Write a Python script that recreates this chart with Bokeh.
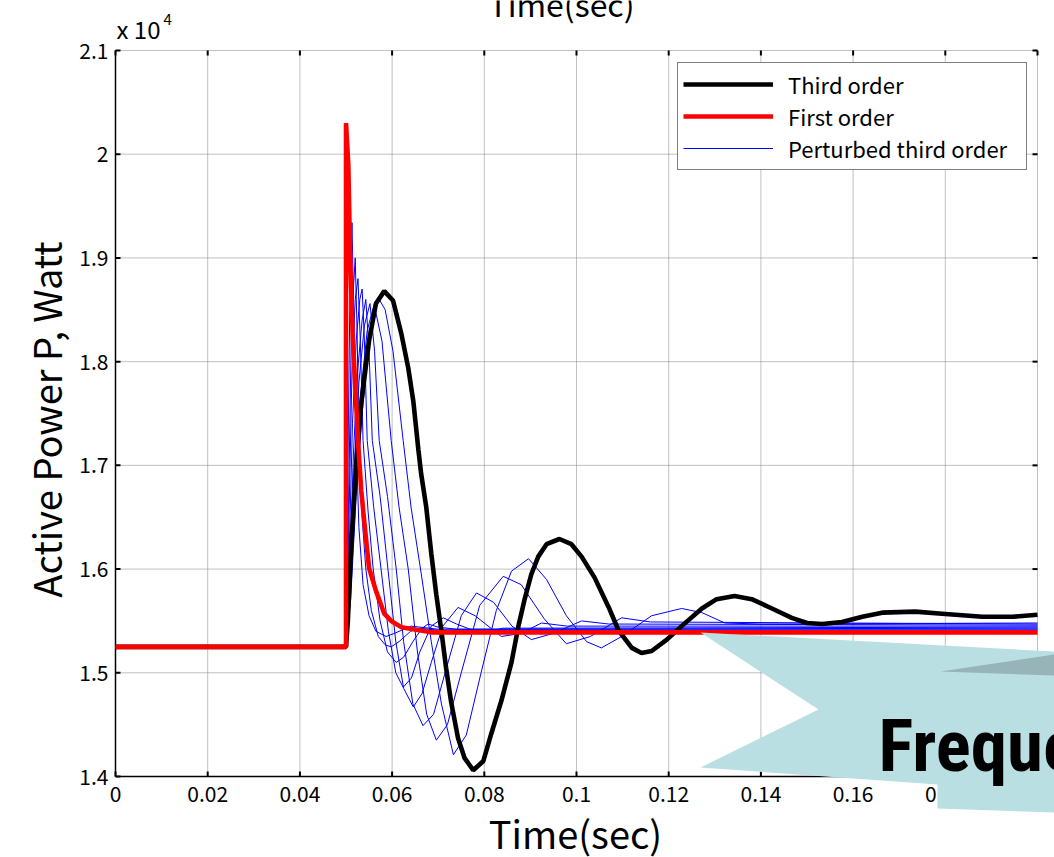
import math
from bokeh.plotting import figure
from bokeh.models import Range1d, Legend, LegendItem, PolyAnnotation
from bokeh.embed import file_html
from bokeh.resources import INLINE

# ---------------- data (active power in units of 1e4 W) ----------------
x_ticks = [0, 0.02, 0.04, 0.06, 0.08, 0.1, 0.12, 0.14, 0.16, 0.18, 0.2]
x_tick_labels = ["0", "0.02", "0.04", "0.06", "0.08", "0.1", "0.12", "0.14", "0.16", "0.18", "0.2"]
y_ticks = [1.4, 1.5, 1.6, 1.7, 1.8, 1.9, 2.0, 2.1]
y_tick_labels = ["1.4", "1.5", "1.6", "1.7", "1.8", "1.9", "2", "2.1"]

third_t = [0, 0.0500, 0.0504, 0.0511, 0.0522, 0.0533, 0.0550, 0.0565, 0.0583, 0.0602,
           0.0620, 0.0635, 0.0646, 0.0657, 0.0663, 0.0674, 0.0685, 0.0696, 0.0707, 0.0717,
           0.0728, 0.0743, 0.0757, 0.0776, 0.0798, 0.0815, 0.0837, 0.0859, 0.0874, 0.0887,
           0.0902, 0.0917, 0.0935, 0.0963, 0.0989, 0.1011, 0.1039, 0.1070, 0.1091, 0.1120,
           0.1141, 0.1163, 0.1196, 0.1228, 0.1272, 0.1304, 0.1343, 0.1380, 0.1424, 0.1467,
           0.1500, 0.1533, 0.1576, 0.1620, 0.1663, 0.1735, 0.1793, 0.1880, 0.1946, 0.2]
third_p = [1.525, 1.525, 1.55, 1.62, 1.70, 1.76, 1.82, 1.856, 1.868, 1.859,
           1.827, 1.794, 1.762, 1.715, 1.692, 1.66, 1.615, 1.575, 1.54, 1.505,
           1.472, 1.437, 1.418, 1.406, 1.415, 1.441, 1.473, 1.51, 1.545, 1.57,
           1.595, 1.612, 1.624, 1.629, 1.624, 1.612, 1.592, 1.563, 1.541, 1.524,
           1.519, 1.521, 1.532, 1.545, 1.562, 1.571, 1.574, 1.571, 1.562, 1.553,
           1.548, 1.547, 1.549, 1.554, 1.558, 1.559, 1.557, 1.554, 1.554, 1.556]

first_t = [0, 0.0500, 0.0500, 0.0505, 0.0509, 0.0515, 0.0522, 0.0526, 0.0533, 0.0540,
           0.0550, 0.0565, 0.0583, 0.0598, 0.0620, 0.0685, 0.2]
first_p = [1.525, 1.525, 2.03, 1.99, 1.90, 1.82, 1.76, 1.724, 1.676, 1.644,
           1.601, 1.579, 1.557, 1.550, 1.544, 1.539, 1.539]

pert1_t = [0, 0.0500, 0.0504, 0.0509, 0.0513, 0.0518, 0.0522, 0.0528, 0.0537, 0.0550,
           0.0565, 0.0587, 0.0605, 0.0641, 0.0700, 0.2]
pert1_p = [1.525, 1.525, 1.70, 1.88, 1.934, 1.82, 1.724, 1.64, 1.585, 1.555,
           1.54, 1.535, 1.538, 1.545, 1.542, 1.542]

pert2_t = [0, 0.0500, 0.0505, 0.0512, 0.0520, 0.0524, 0.0528, 0.0535, 0.0543, 0.0555,
           0.0570, 0.0585, 0.0598, 0.0615, 0.0640, 0.0660, 0.0700, 0.2]
pert2_p = [1.525, 1.525, 1.65, 1.84, 1.90, 1.83, 1.724, 1.65, 1.60, 1.56,
           1.535, 1.527, 1.525, 1.53, 1.54, 1.543, 1.541, 1.541]

pert3_t = [0, 0.0500, 0.0505, 0.0513, 0.0520, 0.0526, 0.0531, 0.0537, 0.0548, 0.0559,
           0.0574, 0.0590, 0.0609, 0.0625, 0.0645, 0.0665, 0.0678, 0.0700, 0.0740, 0.2]
pert3_p = [1.525, 1.525, 1.62, 1.79, 1.86, 1.88, 1.82, 1.724, 1.655, 1.60,
           1.55, 1.52, 1.51, 1.515, 1.53, 1.543, 1.547, 1.544, 1.542, 1.543]

pert4_t = [0, 0.0500, 0.0506, 0.0514, 0.0522, 0.0530, 0.0535, 0.0540, 0.0546, 0.0560,
           0.0576, 0.0592, 0.0608, 0.0624, 0.0642, 0.0660, 0.0685, 0.0711, 0.0740, 0.0793,
           0.0840, 0.2]
pert4_p = [1.525, 1.525, 1.60, 1.74, 1.82, 1.86, 1.87, 1.82, 1.724, 1.66,
           1.60, 1.54, 1.50, 1.486, 1.495, 1.52, 1.545, 1.553, 1.547, 1.538,
           1.543, 1.544]

pert5_t = [0, 0.0500, 0.0507, 0.0516, 0.0525, 0.0535, 0.0543, 0.0550, 0.0557, 0.0574,
           0.0591, 0.0608, 0.0625, 0.0646, 0.0665, 0.0685, 0.0710, 0.0743, 0.0780, 0.0837,
           0.0880, 0.0924, 0.0980, 0.2]
pert5_p = [1.525, 1.525, 1.58, 1.71, 1.79, 1.84, 1.86, 1.81, 1.724, 1.67,
           1.60, 1.53, 1.485, 1.467, 1.48, 1.51, 1.545, 1.563, 1.555, 1.535,
           1.538, 1.548, 1.545, 1.545]

pert6_t = [0, 0.0500, 0.0508, 0.0518, 0.0528, 0.0540, 0.0552, 0.0562, 0.0572, 0.0590,
           0.0609, 0.0625, 0.0645, 0.0667, 0.0690, 0.0715, 0.0750, 0.0783, 0.0820, 0.0860,
           0.0902, 0.0950, 0.1011, 0.1070, 0.2]
pert6_p = [1.525, 1.525, 1.58, 1.70, 1.78, 1.835, 1.856, 1.81, 1.724, 1.67,
           1.60, 1.53, 1.47, 1.449, 1.46, 1.50, 1.555, 1.577, 1.568, 1.545,
           1.532, 1.538, 1.55, 1.547, 1.546]

pert7_t = [0, 0.0500, 0.0509, 0.0520, 0.0532, 0.0546, 0.0561, 0.0578, 0.0598, 0.0615,
           0.0635, 0.0655, 0.0675, 0.0696, 0.0720, 0.0750, 0.0790, 0.0841, 0.0880, 0.0930,
           0.0978, 0.1030, 0.1098, 0.1160, 0.2]
pert7_p = [1.525, 1.525, 1.58, 1.69, 1.77, 1.83, 1.855, 1.82, 1.724, 1.66,
           1.60, 1.52, 1.46, 1.435, 1.45, 1.50, 1.565, 1.593, 1.585, 1.552,
           1.528, 1.535, 1.553, 1.549, 1.547]

pert8_t = [0, 0.0500, 0.0510, 0.0522, 0.0535, 0.0550, 0.0562, 0.0572, 0.0585, 0.0602,
           0.0624, 0.0641, 0.0663, 0.0685, 0.0707, 0.0733, 0.0761, 0.0793, 0.0826, 0.0859,
           0.0896, 0.0935, 0.0978, 0.1022, 0.1054, 0.1098, 0.1163, 0.1228, 0.1272, 0.1322,
           0.1400, 0.2]
pert8_p = [1.525, 1.525, 1.57, 1.67, 1.75, 1.82, 1.85, 1.86, 1.85, 1.81,
           1.724, 1.66, 1.596, 1.53, 1.47, 1.421, 1.44, 1.50, 1.56, 1.598,
           1.61, 1.59, 1.555, 1.53, 1.524, 1.535, 1.555, 1.562, 1.558, 1.548,
           1.547, 1.548]

perturbed = [(pert1_t, pert1_p), (pert2_t, pert2_p), (pert3_t, pert3_p), (pert4_t, pert4_p),
             (pert5_t, pert5_p), (pert6_t, pert6_p), (pert7_t, pert7_p), (pert8_t, pert8_p)]

legend_labels = ["Third order", "First order", "Perturbed third order"]
x_label = "Time(sec)"
y_label = "Active Power P, Watt"
scale_text = "x 10"
scale_exp = "4"
overlay_text = "Frequency"

# ---------------- layout / style ----------------
FONT = "Noto Sans CJK JP"
W, H = 1054, 857
FL, FR, FT, FB = 115, 1037, 50, 776   # axes box edges in pixels
X0, X1, Y0, Y1 = 0.0, 0.2, 1.4, 2.1
DX = (X1 - X0) / (FR - FL)            # data units per pixel
DY = (Y1 - Y0) / (FB - FT)


def xd(px):
    return X0 + (px - FL) * DX


def yd(py):
    return Y1 - (py - FT) * DY


def txt(x, y, s, size, align="left", baseline="middle", font=FONT, angle=0.0,
        style="normal", level="glyph"):
    p.text(x=[x], y=[y], text=[s], angle=angle, text_align=align, text_baseline=baseline,
           text_font={"value": font}, text_font_size=size, text_font_style=style,
           text_color="black", level=level)


# the frame spans the whole canvas so that the callout overlay is not clipped
p = figure(width=W, height=H, output_backend="svg", toolbar_location=None,
           x_range=Range1d(xd(0), xd(W)), y_range=Range1d(yd(H), yd(0)),
           x_axis_type=None, y_axis_type=None,
           min_border=0, min_border_left=0, min_border_right=0,
           min_border_top=0, min_border_bottom=0,
           background_fill_color="white", border_fill_color="white",
           outline_line_color=None)

nx, ny = len(x_ticks), len(y_ticks)
TICK = 5

# dotted grid
p.segment(x0=x_ticks, y0=[Y0] * nx, x1=x_ticks, y1=[Y1] * nx,
          line_color="#808080", line_dash="1 1", line_width=1)
p.segment(x0=[X0] * ny, y0=y_ticks, x1=[X1] * ny, y1=y_ticks,
          line_color="#808080", line_dash="1 1", line_width=1)

# axis lines (left, bottom)
p.segment(x0=[X0, X0], y0=[Y0, Y0], x1=[X0, X1], y1=[Y1, Y0],
          line_color="black", line_width=1.5)

# inward tick marks on all four sides
p.segment(x0=x_ticks, y0=[Y0] * nx, x1=x_ticks, y1=[Y0 + TICK * DY] * nx,
          line_color="black", line_width=2)
p.segment(x0=x_ticks, y0=[Y1] * nx, x1=x_ticks, y1=[Y1 - TICK * DY] * nx,
          line_color="black", line_width=2)
p.segment(x0=[X0] * ny, y0=y_ticks, x1=[X0 + TICK * DX] * ny, y1=y_ticks,
          line_color="black", line_width=2)
p.segment(x0=[X1] * ny, y0=y_ticks, x1=[X1 - TICK * DX] * ny, y1=y_ticks,
          line_color="black", line_width=2)

# tick labels
p.text(x=x_ticks, y=[yd(785)] * nx, text=x_tick_labels, text_align="center",
       text_baseline="top", text_font={"value": FONT}, text_font_size="21px",
       text_color="black")
p.text(x=[xd(108)] * ny, y=y_ticks, text=y_tick_labels, text_align="right",
       text_baseline="middle", text_font={"value": FONT}, text_font_size="21px",
       text_color="black")

# axis titles
txt(xd(575), yd(832), x_label, "38px", align="center")
txt(xd(45), yd(419), y_label, "38px", align="center", angle=math.pi / 2)

# scale factor (x 10^4) and the cropped heading at the very top
txt(xd(116), yd(28), scale_text, "24px")
txt(xd(163), yd(19), scale_exp, "15px")
txt(xd(561), yd(2), x_label, "32px", align="center")

# ---------------- curves ----------------
blue_renderers = []
for t, v in perturbed:
    blue_renderers.append(p.line(t, v, line_color="#0000ff", line_width=1))
r_black = p.line(third_t, third_p, line_color="black", line_width=4.6)
r_red = p.line(first_t, first_p, line_color="#ff0000", line_width=4.6)

PAD, ROW = 5, 32
leg_h = 2 * PAD + 3 * ROW
legend = Legend(items=[LegendItem(label=legend_labels[0], renderers=[r_black]),
                       LegendItem(label=legend_labels[1], renderers=[r_red]),
                       LegendItem(label=legend_labels[2], renderers=[blue_renderers[0]])],
                location=(677, H - 64 - leg_h), padding=PAD, spacing=0,
                glyph_width=90, glyph_height=24, label_height=24, label_standoff=15,
                label_width=233,
                label_text_font=FONT, label_text_font_size="22px", label_text_color="black",
                border_line_color="black", border_line_width=1.5,
                background_fill_color="white", background_fill_alpha=1.0)
p.add_layout(legend)

# ---------------- decorative callout overlay ----------------
flag_px = [(700, 632), (1054, 651), (1054, 812), (937, 808), (937, 784), (700, 767), (818, 709)]
wedge_px = [(940, 671), (1054, 654), (1054, 675)]
p.add_layout(PolyAnnotation(xs=[xd(a) for a, b in flag_px], ys=[yd(b) for a, b in flag_px],
                            fill_color="#b9dfe3", fill_alpha=1.0, line_color=None))
p.add_layout(PolyAnnotation(xs=[xd(a) for a, b in wedge_px], ys=[yd(b) for a, b in wedge_px],
                            fill_color="#97b5b8", fill_alpha=1.0, line_color=None))
txt(xd(878), yd(745), overlay_text, "73px", baseline="alphabetic",
    font="'Liberation Sans Narrow', 'Roboto Condensed', Roboto", style="bold", level="overlay")

open("out.html", "w").write(file_html(p, INLINE))
